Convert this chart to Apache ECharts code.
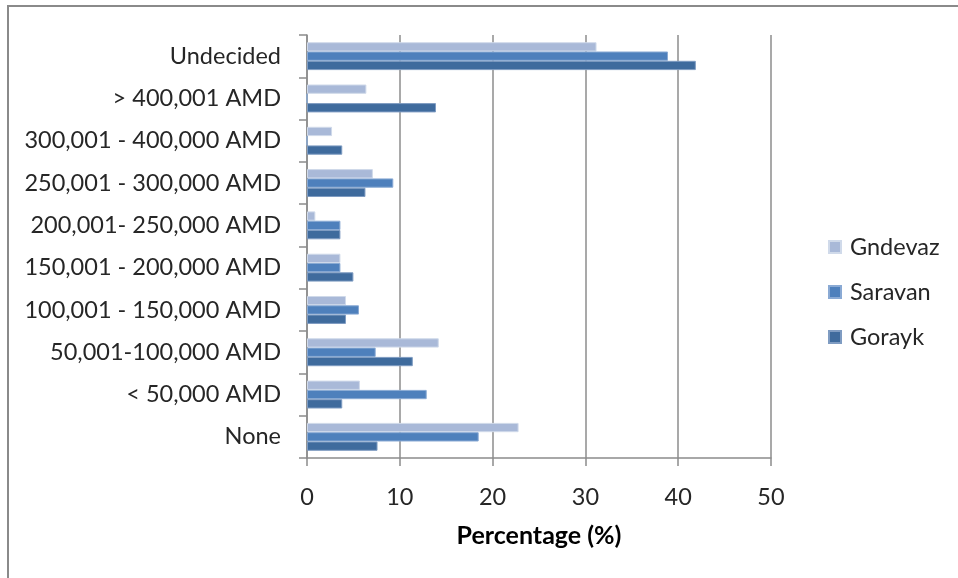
<!DOCTYPE html>
<html>
<head>
<meta charset="utf-8">
<script src="https://cdn.jsdelivr.net/npm/echarts@6/dist/echarts.min.js"></script>
<style>
html,body{margin:0;padding:0;background:#fff;}
#chart{width:958px;height:578px;}
</style>
</head>
<body>
<div id="chart"></div>
<script>
const categories = ['None', '< 50,000 AMD', '50,001-100,000 AMD', '100,001 - 150,000 AMD', '150,001 - 200,000 AMD', '200,001- 250,000 AMD', '250,001 - 300,000 AMD', '300,001 - 400,000 AMD', '> 400,001 AMD', 'Undecided'];
const gndevaz = [22.8, 5.7, 14.2, 4.2, 3.6, 0.9, 7.1, 2.7, 6.4, 31.2];
const saravan = [18.5, 12.9, 7.4, 5.6, 3.6, 3.6, 9.3, 0, 0, 38.9];
const gorayk = [7.6, 3.8, 11.4, 4.2, 5.0, 3.6, 6.3, 3.8, 13.9, 41.9];
const xTicks = [0, 10, 20, 30, 40, 50];

const FONT = 'Lato';
const FS = 23.5;
const chart = echarts.init(document.getElementById('chart'), null, {renderer: 'canvas'});
function mk(name, data, color, border) {
  return {
    name: name, type: 'bar', data: data, barGap: '0%', barCategoryGap: '34%',
    itemStyle: {color: color, borderColor: border, borderWidth: 1},
    emphasis: {disabled: true}, animation: false
  };
}
chart.setOption({
  animation: false,
  textStyle: {fontFamily: FONT},
  graphic: [{
    type: 'rect', shape: {x: 8, y: 6, width: 1000, height: 1000},
    style: {fill: 'none', stroke: '#8a8a8a', lineWidth: 2}, silent: true, z: -1
  }],
  grid: {left: 307, right: 187, top: 35, bottom: 120, containLabel: false},
  legend: {
    orient: 'vertical', left: 828, top: 235, padding: 0,
    data: ['Gndevaz', 'Saravan', 'Gorayk'],
    icon: 'rect', itemWidth: 12, itemHeight: 12, itemGap: 21,
    textStyle: {fontFamily: FONT, fontSize: FS, color: '#262626', lineHeight: 24, padding: [0, 0, 0, 4]},
    selectedMode: false
  },
  xAxis: {
    type: 'value', min: xTicks[0], max: xTicks[xTicks.length - 1], interval: 10,
    name: 'Percentage (%)', nameLocation: 'middle', nameGap: 65,
    nameTextStyle: {fontFamily: FONT, fontSize: 25, fontWeight: 'bold', color: '#000'},
    axisLine: {show: true, lineStyle: {color: '#8c8c8c', width: 1.5}},
    axisTick: {show: true, length: 8, lineStyle: {color: '#8c8c8c', width: 1.5}},
    axisLabel: {fontFamily: FONT, fontSize: FS, color: '#262626', margin: 27},
    splitLine: {show: true, lineStyle: {color: '#8c8c8c', width: 1.5}}
  },
  yAxis: {
    type: 'category', data: categories,
    axisLine: {show: true, lineStyle: {color: '#8c8c8c', width: 1.5}},
    axisTick: {show: true, length: 8, lineStyle: {color: '#8c8c8c', width: 1.5}},
    axisLabel: {fontFamily: FONT, fontSize: FS, color: '#262626', margin: 26},
    splitLine: {show: false}
  },
  series: [
    mk('Gndevaz', gndevaz, '#A9B9D8', '#d0daea'),
    mk('Saravan', saravan, '#4E80BC', '#8aaad4'),
    mk('Gorayk', gorayk, '#3F6B9D', '#7f9cc2')
  ]
});
</script>
</body>
</html>
